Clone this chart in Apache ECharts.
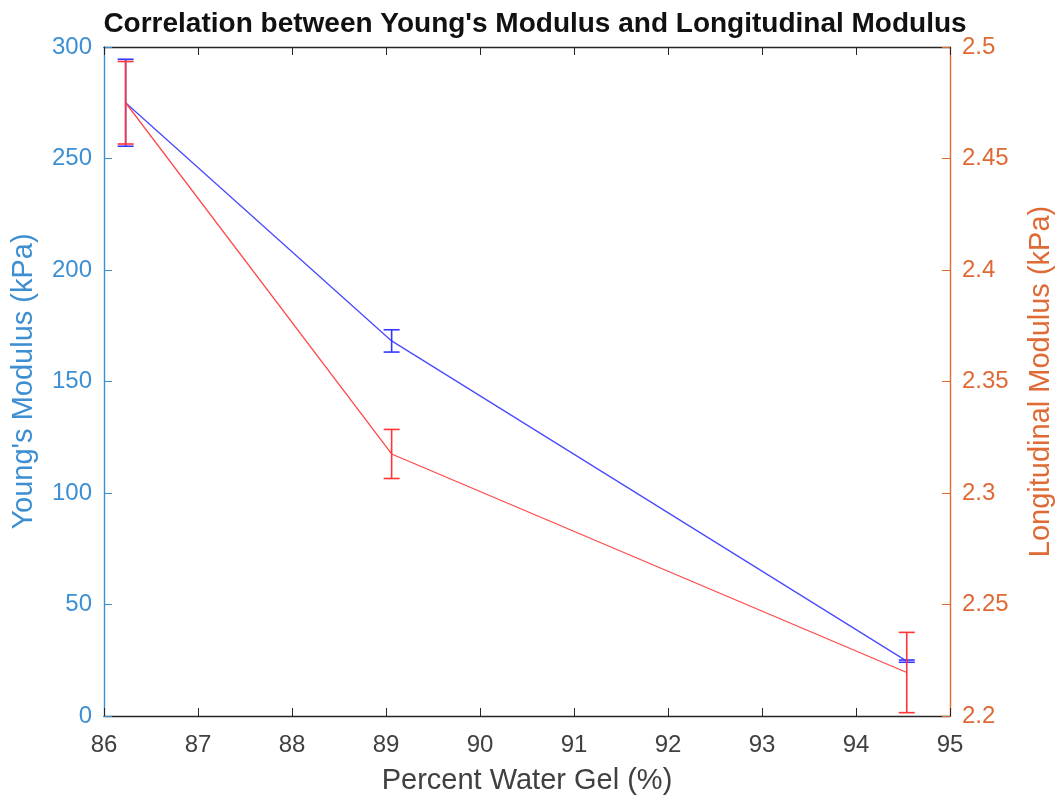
<!DOCTYPE html>
<html>
<head>
<meta charset="utf-8">
<script src="https://cdn.jsdelivr.net/npm/echarts@6/dist/echarts.min.js"></script>
<style>
html,body{margin:0;padding:0;background:#fff;}
#chart{width:1058px;height:801px;}
</style>
</head>
<body>
<div id="chart"></div>
<script>
// Data
const waterGel = [86.23, 89.06, 94.54];
const youngs = [275.0, 168.2, 24.6];
const youngsErr = [19.5, 5.0, 0.5];
const longitudinal = [2.475, 2.3175, 2.2195];
const longitudinalErr = [0.0185, 0.011, 0.018];
const xTicks = [86, 87, 88, 89, 90, 91, 92, 93, 94, 95];
const leftTicks = [0, 50, 100, 150, 200, 250, 300];
const rightTicks = [2.2, 2.25, 2.3, 2.35, 2.4, 2.45, 2.5];

const BLUE_AX = '#3d8fd2';
const ORANGE_AX = '#e06a35';
const GREY = '#404040';
const FONT = 'Liberation Sans, Arial, Helvetica, sans-serif';

function pairs(xs, ys) { return xs.map((x, i) => [x, ys[i]]); }
function errData(xs, ys, es) { return xs.map((x, i) => [x, ys[i] - es[i], ys[i] + es[i]]); }

function errRender(color) {
  return function (params, api) {
    const x = api.value(0);
    const p1 = api.coord([x, api.value(2)]);
    const p2 = api.coord([x, api.value(1)]);
    const w = 8;
    const st = { stroke: color, lineWidth: 1.6 };
    return {
      type: 'group',
      children: [
        { type: 'line', shape: { x1: p1[0], y1: p1[1], x2: p2[0], y2: p2[1] }, style: st },
        { type: 'line', shape: { x1: p1[0] - w, y1: p1[1], x2: p1[0] + w, y2: p1[1] }, style: st },
        { type: 'line', shape: { x1: p2[0] - w, y1: p2[1], x2: p2[0] + w, y2: p2[1] }, style: st }
      ]
    };
  };
}

const chart = echarts.init(document.getElementById('chart'), null, { renderer: 'canvas' });
chart.setOption({
  backgroundColor: '#fff',
  animation: false,
  title: {
    text: "Correlation between Young's Modulus and Longitudinal Modulus",
    left: 530, top: 5, textAlign: 'center',
    textStyle: { fontFamily: FONT, fontWeight: 'bold', fontSize: 28, color: '#111' }
  },
  grid: { left: 104, right: 108, top: 47, bottom: 85, containLabel: false, outerBoundsMode: 'none' },
  xAxis: [{
    type: 'value', min: 86, max: 95, interval: 1, position: 'bottom',
    name: 'Percent Water Gel (%)', nameLocation: 'middle', nameGap: 50,
    nameTextStyle: { fontFamily: FONT, fontSize: 29, color: GREY },
    axisLine: { onZero: false, lineStyle: { color: '#262626', width: 1.4 } },
    axisTick: { inside: true, length: 8, lineStyle: { color: '#262626' } },
    axisLabel: { fontFamily: FONT, fontSize: 24, color: GREY, margin: 17 },
    splitLine: { show: false }
  }, {
    type: 'value', min: 86, max: 95, interval: 1, position: 'top',
    axisLine: { onZero: false, lineStyle: { color: '#262626', width: 1.4 } },
    axisTick: { inside: true, length: 8, lineStyle: { color: '#262626' } },
    axisLabel: { show: false },
    splitLine: { show: false }
  }],
  yAxis: [{
    type: 'value', min: 0, max: 300, interval: 50, position: 'left',
    name: "Young's Modulus (kPa)", nameLocation: 'middle', nameGap: 66,
    nameTextStyle: { fontFamily: FONT, fontSize: 29, color: BLUE_AX },
    axisLine: { show: true, lineStyle: { color: BLUE_AX, width: 1.4 } },
    axisTick: { show: true, inside: true, length: 8, lineStyle: { color: BLUE_AX } },
    axisLabel: { fontFamily: FONT, fontSize: 24, color: BLUE_AX, margin: 12 },
    splitLine: { show: false }
  }, {
    type: 'value', min: 2.2, max: 2.5, interval: 0.05, position: 'right',
    name: 'Longitudinal Modulus (kPa)', nameLocation: 'middle', nameGap: 76,
    nameRotate: 90,
    nameTextStyle: { fontFamily: FONT, fontSize: 29, color: ORANGE_AX },
    axisLine: { show: true, lineStyle: { color: ORANGE_AX, width: 1.4 } },
    axisTick: { show: true, inside: true, length: 8, lineStyle: { color: ORANGE_AX } },
    axisLabel: { fontFamily: FONT, fontSize: 24, color: ORANGE_AX, margin: 12,
      formatter: v => String(+v.toFixed(2)) },
    splitLine: { show: false }
  }],
  series: [{
    type: 'line', name: 'Young', xAxisIndex: 0, yAxisIndex: 0,
    data: pairs(waterGel, youngs), showSymbol: false, z: 2,
    lineStyle: { color: '#4a4aff', width: 1.3 }
  }, {
    type: 'custom', name: 'YoungErr', xAxisIndex: 0, yAxisIndex: 0, z: 3,
    data: errData(waterGel, youngs, youngsErr),
    renderItem: errRender('#3535ff'), encode: { x: 0, y: [1, 2] }
  }, {
    type: 'line', name: 'Long', xAxisIndex: 0, yAxisIndex: 1,
    data: pairs(waterGel, longitudinal), showSymbol: false, z: 4,
    lineStyle: { color: '#ff4a4a', width: 1.3 }
  }, {
    type: 'custom', name: 'LongErr', xAxisIndex: 0, yAxisIndex: 1, z: 5,
    data: errData(waterGel, longitudinal, longitudinalErr),
    renderItem: errRender('#ff3535'), encode: { x: 0, y: [1, 2] }
  }]
});
</script>
</body>
</html>
